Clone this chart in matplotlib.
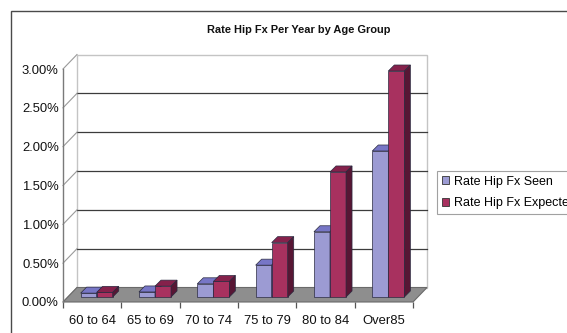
import matplotlib
matplotlib.use("Agg")
import matplotlib.pyplot as plt
from matplotlib.patches import Polygon, Rectangle, Patch
from matplotlib.transforms import IdentityTransform
from matplotlib.lines import Line2D

plt.rcParams["font.family"] = ["Liberation Sans", "DejaVu Sans"]

# ---- data -------------------------------------------------------------
categories = ["60 to 64", "65 to 69", "70 to 74", "75 to 79", "80 to 84", "Over85"]
seen = [0.05, 0.065, 0.17, 0.41, 0.84, 1.88]        # % per year
expected = [0.06, 0.14, 0.20, 0.70, 1.61, 2.91]     # % per year
series_names = ["Rate Hip Fx Seen", "Rate Hip Fx Expected"]
y_ticks = [0.0, 0.5, 1.0, 1.5, 2.0, 2.5, 3.0]
y_tick_labels = ["0.00%", "0.50%", "1.00%", "1.50%", "2.00%", "2.50%", "3.00%"]
title = "Rate Hip Fx Per Year by Age Group"

# ---- styling ------------------------------------------------------------
W, H = 567, 333
DPI = 100
blue_front, blue_top, blue_side = "#9c9bd3", "#7776c6", "#55549a"
red_front, red_top, red_side = "#a8315f", "#85214b", "#571634"
floor_col = "#8e8e8e"
wall_dx, wall_dy = 14, 14.5      # depth of the floor / back wall (pixels)
bar_dx, bar_dy = 4.5, 5          # bars sit a little behind the front edge
depth_dx, depth_dy = 6, 6        # depth of each bar
bar_w = 0.275

fig = plt.figure(figsize=(W / DPI, H / DPI), dpi=DPI)
# axes area = front plane of the floor / value axis
left_px, right_px, bottom_px, top_px = 63, 413, 302, 69
ax = fig.add_axes([left_px / W, (H - bottom_px) / H,
                   (right_px - left_px) / W, (bottom_px - top_px) / H])
ax.set_xlim(-0.5, len(categories) - 0.5)
ax.set_ylim(0, 3.0)
for s in ax.spines.values():
    s.set_visible(False)

ident = IdentityTransform()


def px(x, y, dx=0.0, dy=0.0):
    X, Y = ax.transData.transform((x, y))
    return (X + dx, Y + dy)


def poly(pts, **kw):
    p = Polygon(pts, closed=True, transform=ident, clip_on=False, **kw)
    ax.add_patch(p)
    return p


def line(p0, p1, **kw):
    ax.add_line(Line2D([p0[0], p1[0]], [p0[1], p1[1]], transform=ident,
                       clip_on=False, **kw))


x0, x1 = -0.5, len(categories) - 0.5

# back wall
poly([px(x0, 0, wall_dx, wall_dy), px(x1, 0, wall_dx, wall_dy),
      px(x1, 3.0, wall_dx, wall_dy), px(x0, 3.0, wall_dx, wall_dy)],
     facecolor="white", edgecolor="#c4c4c4", linewidth=1.0, zorder=1)

# gridlines on the back wall + diagonals to the value axis
for v in y_ticks:
    if 0 < v < 3.0:
        line(px(x0, v, wall_dx, wall_dy), px(x1, v, wall_dx, wall_dy),
             color="#3c3c3c", linewidth=0.9, zorder=2)
    line(px(x0, v), px(x0, v, wall_dx, wall_dy), color="#9a9a9a",
         linewidth=0.8, zorder=2)

# floor
poly([px(x0, 0), px(x1, 0), px(x1, 0, wall_dx, wall_dy), px(x0, 0, wall_dx, wall_dy)],
     facecolor=floor_col, edgecolor="#6a6a6a", linewidth=0.8, zorder=3)

# value axis line
line(px(x0, 0), px(x0, 3.0), color="#7a7a7a", linewidth=1.0, zorder=4)

# bars: front faces via ax.bar, shifted back by the bar offset
from matplotlib.transforms import ScaledTranslation
shift = ax.transData + ScaledTranslation(bar_dx / DPI, bar_dy / DPI, fig.dpi_scale_trans)

xs = list(range(len(categories)))
for vals, offs, fc, tc, sc in [(seen, -bar_w / 2, blue_front, blue_top, blue_side),
                               (expected, bar_w / 2, red_front, red_top, red_side)]:
    bars = ax.bar([x + offs for x in xs], vals, width=bar_w, color=fc,
                  edgecolor="#2a2a40", linewidth=0.5, zorder=5)
    for b, x, v in zip(bars, xs, vals):
        b.set_transform(shift)
        b.set_clip_on(False)
        a, c = x + offs - bar_w / 2, x + offs + bar_w / 2
        # top face
        poly([px(a, v, bar_dx, bar_dy), px(c, v, bar_dx, bar_dy),
              px(c, v, bar_dx + depth_dx, bar_dy + depth_dy),
              px(a, v, bar_dx + depth_dx, bar_dy + depth_dy)],
             facecolor=tc, edgecolor="#2a2a40", linewidth=0.5, zorder=5)
        # side face
        poly([px(c, 0, bar_dx, bar_dy), px(c, v, bar_dx, bar_dy),
              px(c, v, bar_dx + depth_dx, bar_dy + depth_dy),
              px(c, 0, bar_dx + depth_dx, bar_dy + depth_dy)],
             facecolor=sc, edgecolor="#2a2a40", linewidth=0.5, zorder=5)

# axes ticks and labels
ax.set_yticks(y_ticks)
ax.set_yticklabels(y_tick_labels)
ax.tick_params(axis="y", length=0, pad=3, labelsize=9.4, labelcolor="#111111")
ax.set_xticks(xs)
ax.set_xticklabels(categories)
ax.set_xticks([x + 0.5 for x in xs[:-1]] + [x0, x1], minor=True)
ax.tick_params(axis="x", which="major", length=0, pad=9, labelsize=9.4,
               labelcolor="#111111")
ax.tick_params(axis="x", which="minor", length=4, width=0.9, color="#555555",
               direction="out")

# title
fig.text(299 / W, 1 - 30 / H, title, ha="center", va="center",
         fontsize=7.9, fontweight="bold", color="#111111")

# legend
handles = [Patch(facecolor=blue_front, edgecolor="#333333", linewidth=0.6),
           Patch(facecolor=red_front, edgecolor="#333333", linewidth=0.6)]
leg = fig.legend(handles, series_names, loc="upper left",
                 bbox_to_anchor=(437 / W, 1 - 171 / H), fontsize=9,
                 frameon=True, fancybox=False, borderpad=0.38,
                 labelspacing=0.75, handlelength=0.6, handleheight=0.6,
                 handletextpad=0.35, borderaxespad=0)
leg.get_frame().set_edgecolor("#8a8a8a")
leg.get_frame().set_linewidth(0.8)

# outer chart border
fig.patches.append(Rectangle((10.5 / W, -0.1), 1.2, 1.1 - 11.5 / H,
                             transform=fig.transFigure, fill=False,
                             edgecolor="#4a4a4a", linewidth=1.0))

fig.savefig("out.png", dpi=DPI)
